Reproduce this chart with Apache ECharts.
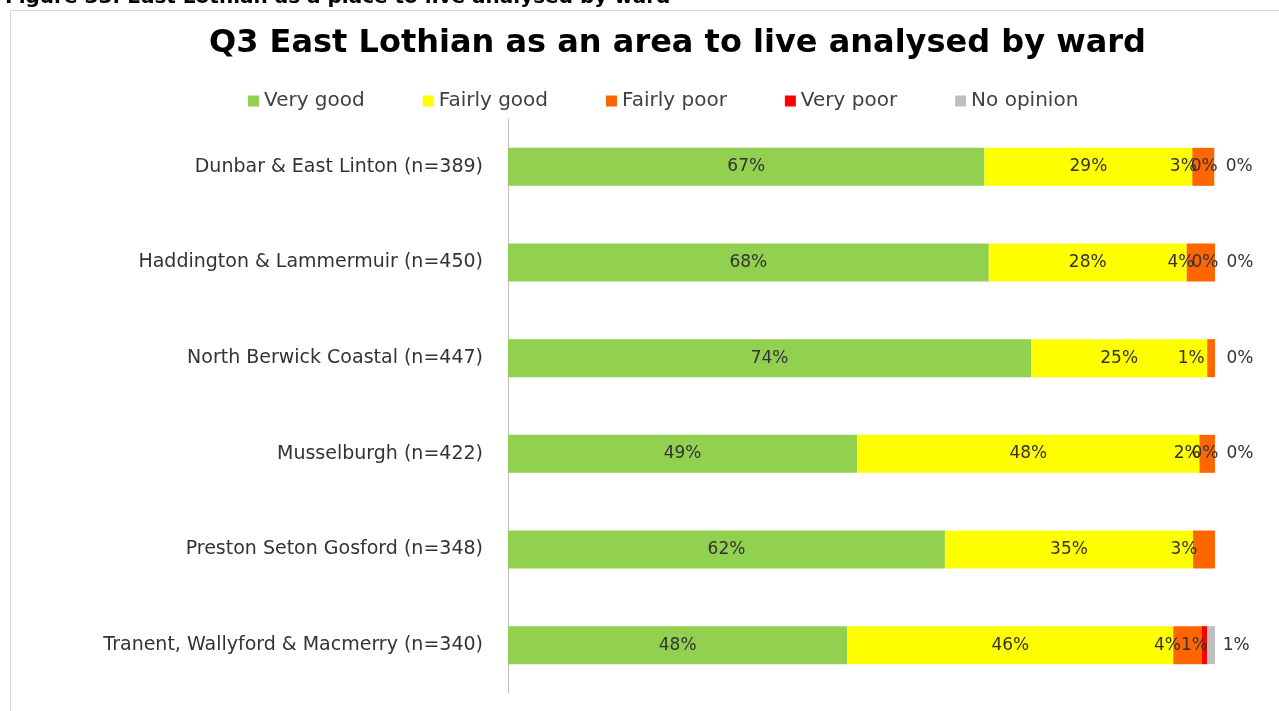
<!DOCTYPE html>
<html>
<head>
<meta charset="utf-8">
<script src="https://cdn.jsdelivr.net/npm/echarts@6/dist/echarts.min.js"></script>
<style>
  html, body { margin: 0; padding: 0; background: #fff; }
  #chart { width: 1279px; height: 711px; }
</style>
</head>
<body>
<div id="chart"></div>
<script>
// wards, top to bottom
var wards = [
    'Dunbar & East Linton (n=389)',
    'Haddington & Lammermuir (n=450)',
    'North Berwick Coastal (n=447)',
    'Musselburgh (n=422)',
    'Preston Seton Gosford (n=348)',
    'Tranent, Wallyford & Macmerry (n=340)'
];
var veryGood = [67.4, 68.0, 74.0, 49.4, 61.8, 48.0];
var fairlyGood = [29.4, 28.0, 24.9, 48.4, 35.1, 46.1];
var fairlyPoor = [3.1, 4.0, 1.1, 2.2, 3.1, 4.0];
var veryPoor = [0, 0, null, 0, null, 0.8];
var noOpinion = [0, 0, 0, 0, null, 1.1];

var font = 'DejaVu Sans';

function pct(p) {
    return Math.round(p.value) + '%';
}

function mkSerie(name, data, color, offset) {
    return {
        name: name,
        type: 'bar',
        stack: 'all',
        data: data,
        barWidth: 38,
        itemStyle: { color: color },
        label: {
            show: true,
            position: 'inside',
            offset: offset,
            formatter: pct,
            color: '#333',
            fontFamily: font,
            fontSize: 17
        }
    };
}

var chartDom = document.getElementById('chart');
var myChart = echarts.init(chartDom);

var option = {
    animation: false,
    title: [
        {
            text: 'Figure 33: East Lothian as a place to live analysed by ward',
            left: 0,
            top: -17,
            textStyle: { fontFamily: font, fontWeight: 'bold', fontSize: 20, color: '#000' }
        },
        {
            text: 'Q3 East Lothian as an area to live analysed by ward',
            left: 204,
            top: 23,
            textStyle: { fontFamily: font, fontWeight: 'bold', fontSize: 32, color: '#000' }
        }
    ],
    graphic: [{
        type: 'rect',
        shape: { x: 10.5, y: 10.5, width: 1300, height: 800 },
        style: { fill: 'none', stroke: '#d9d9d9', lineWidth: 1 },
        silent: true
    }],
    legend: {
        top: 86,
        left: 243,
        itemWidth: 11,
        itemHeight: 11,
        itemGap: 58,
        icon: 'rect',
        textStyle: { fontFamily: font, fontSize: 20, color: '#404040' }
    },
    grid: {
        left: 508,
        right: 64,
        top: 119,
        bottom: 18
    },
    xAxis: {
        type: 'value',
        min: 0,
        max: 100,
        show: false
    },
    yAxis: {
        type: 'category',
        data: wards,
        inverse: true,
        axisTick: { show: false },
        axisLine: { lineStyle: { color: '#bfbfbf' } },
        axisLabel: { fontFamily: font, fontSize: 19, color: '#333', margin: 25 }
    },
    series: [
        mkSerie('Very good', veryGood, '#92d050', [0, 0]),
        mkSerie('Fairly good', fairlyGood, '#ffff00', [0, 0]),
        mkSerie('Fairly poor', fairlyPoor, '#ff6600', [-20, 0]),
        mkSerie('Very poor', veryPoor, '#ff0000', [-10, 0]),
        mkSerie('No opinion', noOpinion, '#bfbfbf', [25, 0])
    ]
};

option && myChart.setOption(option);
</script>
</body>
</html>
